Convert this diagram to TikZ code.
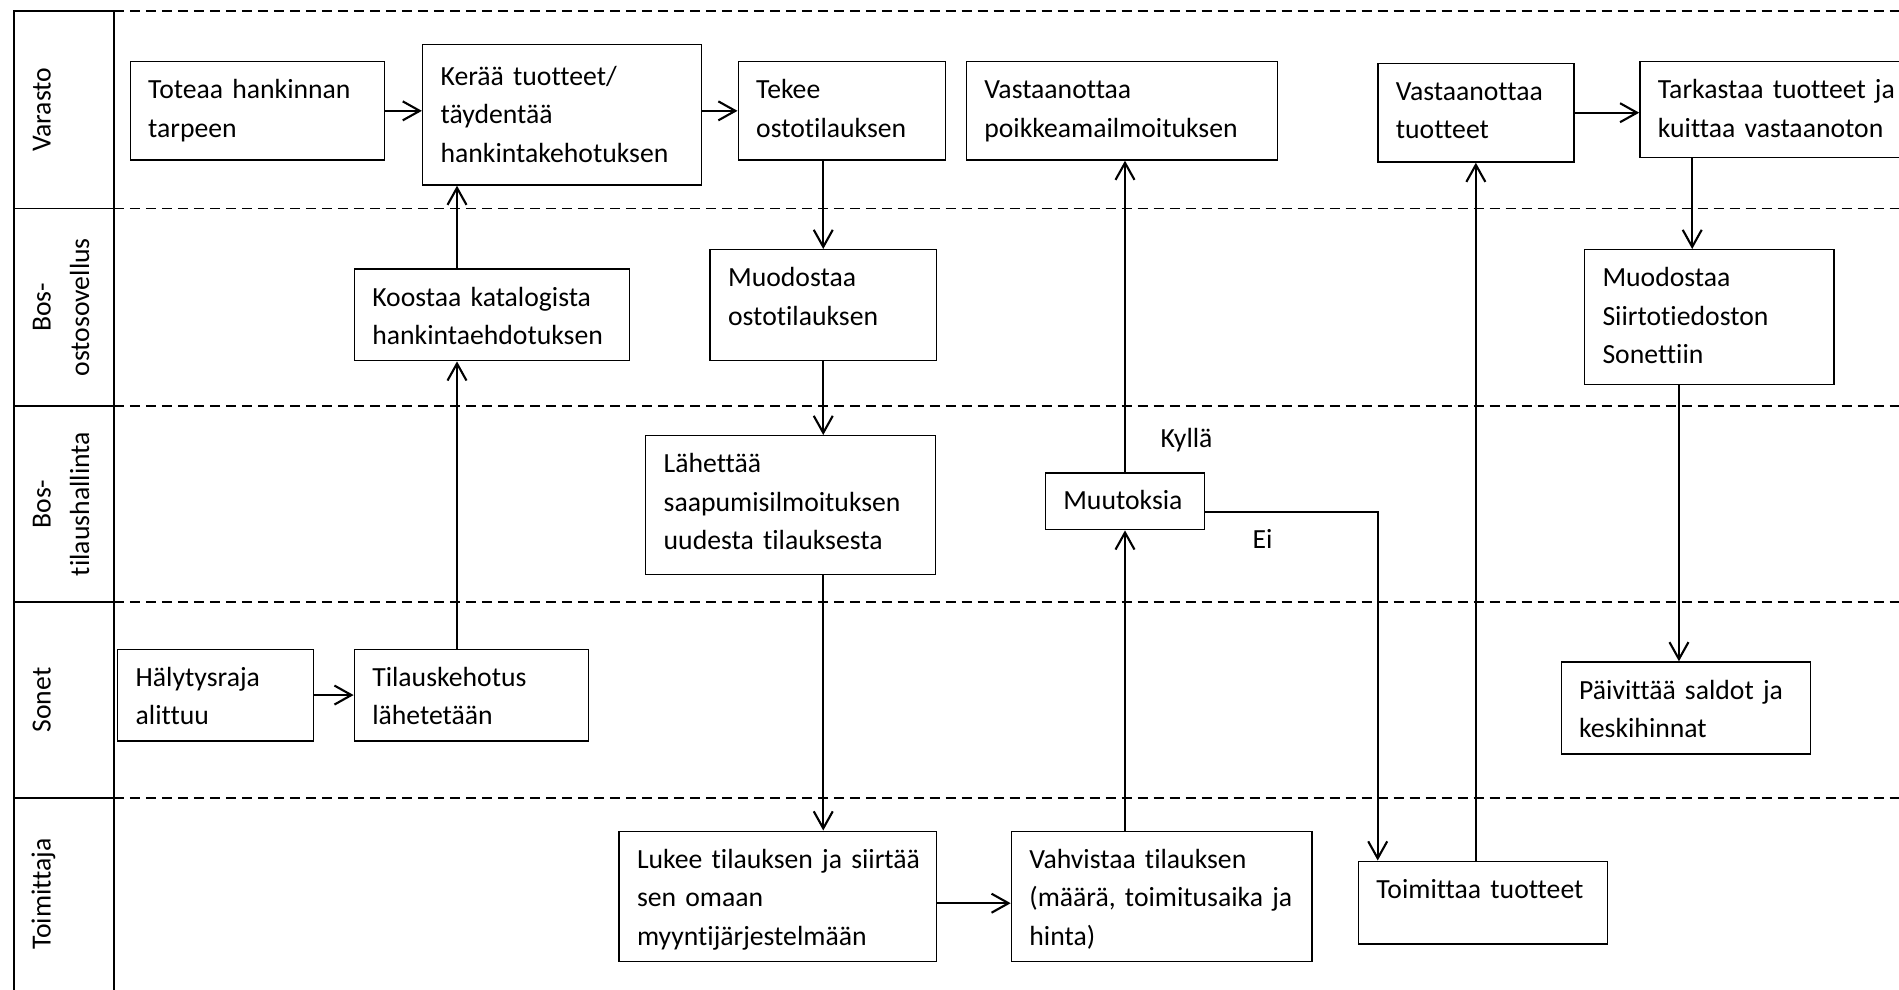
\documentclass[tikz,border=0pt]{standalone}
\usepackage{fontspec}
\setmainfont{Carlito}[Ligatures=NoCommon]
\usepackage{tikz}
\usetikzlibrary{arrows.meta, positioning, calc}
\hyphenpenalty=10000
\exhyphenpenalty=10000

\begin{document}
\begin{tikzpicture}[
  arrow/.style={-{Straight Barb[length=0.17cm, width=0.19cm]}, line width=0.6pt},
  lanesep/.style={dash pattern=on 0.105cm off 0.055cm, line width=0.4pt},
  lanecol/.style={line width=0.4pt},
  box/.style={draw, line width=0.4pt, anchor=north west, align=left, inner xsep=0.18cm, inner ysep=0pt, text height=0.37cm, font=\fontsize{7.88pt}{10.95pt}\selectfont},
  lane/.style={rotate=90, anchor=north, align=center, text width=1.9cm, inner sep=0pt, text height=0.18cm, font=\fontsize{7.88pt}{10.95pt}\selectfont},
  tag/.style={anchor=base west, inner sep=0pt, font=\fontsize{7.88pt}{10.95pt}\selectfont}
]
\useasboundingbox (0,0) rectangle (18.99,-9.90);
\draw[lanecol] (0.138,-9.95) -- (0.138,-0.11) -- (1.138,-0.11) -- (1.138,-9.95);
\foreach \y in {2.085,4.06,6.02,7.98} \draw[lanecol] (0.138,-\y) -- (1.138,-\y);
\foreach \y in {0.11,2.085,4.06,6.02,7.98} \draw[lanesep] (1.138,-\y) -- (18.99,-\y);
\node[lane] (varasto) at (0.32,-1.0975) {Varasto};
\node[lane] (ostosov) at (0.32,-3.0725) {Bos-\\ostosovellus};
\node[lane] (tilaushal) at (0.32,-5.04) {Bos-\\tilaushallinta};
\node[lane] (sonet) at (0.32,-7.00) {Sonet};
\node[lane] (toimittaja) at (0.32,-8.94) {Toimittaja};
\node[box, text width=2.18cm, text depth=0.613cm] (toteaa) at (1.295,-0.61) {Toteaa hankinnan\\tarpeen};
\node[box, text width=2.43cm, text height=0.41cm, text depth=0.996cm] (keraa) at (4.219,-0.437) {Kerää tuotteet/\\täydentää\\hankintakehotuksen};
\node[box, text width=1.711cm, text depth=0.613cm] (tekee) at (7.375,-0.61) {Tekee\\ostotilauksen};
\node[box, text width=2.752cm, text depth=0.613cm] (vastpoik) at (9.656,-0.61) {Vastaanottaa\\poikkeamailmoituksen};
\node[box, text width=1.599cm, text depth=0.616cm] (vasttuot) at (13.772,-0.627) {Vastaanottaa\\tuotteet};
\node[box, text width=2.64cm, text depth=0.59cm] (tarkastaa) at (16.392,-0.61) {Tarkastaa~tuotteet~ja\\kuittaa vastaanoton};
\node[box, text width=2.39cm, text depth=0.547cm] (koostaa) at (3.536,-2.683) {Koostaa~katalogista\\hankintaehdotuksen};
\node[box, text width=1.903cm, text depth=0.74cm] (muodosto) at (7.094,-2.49) {Muodostaa\\ostotilauksen};
\node[box, text width=2.134cm, text depth=0.977cm] (siirto) at (15.838,-2.49) {Muodostaa\\Siirtotiedoston\\Sonettiin};
\node[box, text width=2.538cm, text depth=1.017cm] (lahettaa) at (6.45,-4.35) {Lähettää\\saapumisilmoituksen\\uudesta~tilauksesta};
\node[box, text width=1.234cm, text depth=0.198cm] (muutoksia) at (10.446,-4.722) {Muutoksia};
\node[box, text width=1.60cm, text depth=0.547cm] (haly) at (1.17,-6.485) {Hälytysraja\\alittuu};
\node[box, text width=1.984cm, text depth=0.547cm] (tilaus) at (3.536,-6.485) {Tilauskehotus\\lähetetään};
\node[box, text width=2.135cm, text depth=0.551cm] (paivittaa) at (15.605,-6.613) {Päivittää~saldot~ja\\keskihinnat};
\node[box, text width=2.814cm, text depth=0.93cm] (lukee) at (6.183,-8.305) {Lukee~tilauksen~ja~siirtää\\sen omaan\\myyntijärjestelmään};
\node[box, text width=2.645cm, text depth=0.93cm] (vahvistaa) at (10.107,-8.305) {Vahvistaa tilauksen\\(määrä,~toimitusaika~ja\\hinta)};
\node[box, text width=2.133cm, text depth=0.457cm] (toimittaa) at (13.577,-8.605) {Toimittaa~tuotteet};
\node[tag] (kylla) at (11.60,-4.47) {Kyllä};
\node[tag] (ei) at (12.52,-5.48) {Ei};
\draw[arrow] (toteaa.east) -- (toteaa.east -| keraa.west);
\draw[arrow] (keraa.east |- tekee.west) -- (tekee.west);
\draw[arrow] (tekee.south -| muodosto.north) -- (muodosto.north);
\draw[arrow] (muodosto.south) -- (muodosto.south |- lahettaa.north);
\draw[arrow] (lahettaa.south -| muodosto.south) -- (lukee.north -| muodosto.south);
\draw[arrow] ([yshift=-0.07cm]lukee.east) -- ([yshift=-0.07cm]vahvistaa.west);
\draw[arrow] (vahvistaa.north -| muutoksia.south) -- (muutoksia.south);
\draw[arrow] (muutoksia.north) -- (muutoksia.north |- vastpoik.south);
\draw[arrow] ([yshift=-0.11cm]muutoksia.east) -| ([xshift=0.2cm]toimittaa.north west);
\draw[arrow] (toimittaa.north -| vasttuot.south) -- (vasttuot.south);
\draw[arrow] (vasttuot.east) -- (vasttuot.east -| tarkastaa.west);
\draw[arrow] ([xshift=-0.17cm]siirto.north |- tarkastaa.south) -- ([xshift=-0.17cm]siirto.north);
\draw[arrow] ([xshift=-0.07cm]paivittaa.north |- siirto.south) -- ([xshift=-0.07cm]paivittaa.north);
\draw[arrow] (haly.east) -- (tilaus.west);
\draw[arrow] ([xshift=-0.145cm]tilaus.north) -- ([xshift=-0.145cm]tilaus.north |- koostaa.south);
\draw[arrow] ([xshift=-0.145cm]tilaus.north |- koostaa.north) -- ([xshift=-0.145cm]tilaus.north |- keraa.south);
\end{tikzpicture}
\end{document}
